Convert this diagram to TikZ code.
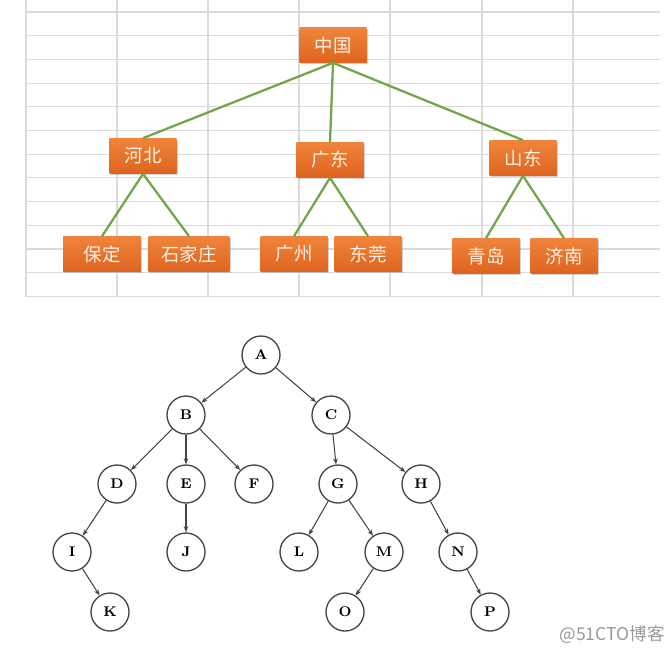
\documentclass[tikz,border=0pt]{standalone}
\usepackage{fontspec}
\newfontfamily\cjk{Noto Sans CJK SC}
\usetikzlibrary{arrows.meta,shadows}
\definecolor{cellline}{HTML}{DADADA}
\definecolor{boxtop}{HTML}{F0843A}
\definecolor{boxbot}{HTML}{DE641F}
\definecolor{linkgreen}{HTML}{72A64B}
\definecolor{treeline}{HTML}{444444}

\begin{document}
\begin{tikzpicture}[x={(0.02cm,0cm)},y={(0cm,-0.02cm)},
  prov/.style={top color=boxtop, bottom color=boxbot, minimum width=1.34cm, minimum height=0.7cm, inner sep=0pt,
    text=white!90!orange, font=\cjk\fontsize{10.5}{11}\selectfont,
    drop shadow={opacity=0.35, shadow xshift=0.6pt, shadow yshift=-0.9pt}},
  link/.style={linkgreen, line width=1.3pt},
  vert/.style={circle, draw=treeline, line width=0.75pt, minimum size=0.76cm, inner sep=0pt, font=\bfseries\fontsize{8}{9}\selectfont},
  ptr/.style={treeline, line width=0.6pt, -{Stealth[length=3.5pt,width=2.6pt]}}]

\useasboundingbox (0,0) rectangle (671,654);

\foreach \gy in {0,...,12} \draw[cellline, line width=0.6pt] (26,{12+23.7*\gy}) -- (660,{12+23.7*\gy});
\foreach \gx in {26,117,208,299,390,482,573} \draw[cellline, line width=0.6pt] (\gx,0) -- (\gx,297);

\node[prov] (zg) at (333,45) {中国};
\node[prov] (hb) at (143,156) {河北};
\node[prov] (gd) at (330,160) {广东};
\node[prov] (sd) at (523,158) {山东};
\node[prov, minimum width=1.56cm] (bd) at (102,254) {保定};
\node[prov, minimum width=1.62cm] (sjz) at (189,254) {石家庄};
\node[prov] (gz) at (294,254) {广州};
\node[prov] (dg) at (368,254) {东莞};
\node[prov] (qd) at (486,256) {青岛};
\node[prov] (jn) at (564,256) {济南};

\draw[link] (zg.south) -- (hb.north);
\draw[link] (zg.south) -- (gd.north);
\draw[link] (zg.south) -- (sd.north);
\draw[link] (hb.south) -- (bd.north);
\draw[link] (hb.south) -- (sjz.north);
\draw[link] (gd.south) -- (gz.north);
\draw[link] (gd.south) -- (dg.north);
\draw[link] (sd.south) -- (qd.north);
\draw[link] (sd.south) -- (jn.north);

\node[vert] (a) at (261,355) {A};
\node[vert] (b) at (186,415) {B};
\node[vert] (c) at (331,415) {C};
\node[vert] (d) at (117,484) {D};
\node[vert] (e) at (186,484) {E};
\node[vert] (f) at (254,484) {F};
\node[vert] (g) at (338,484) {G};
\node[vert] (h) at (421,484) {H};
\node[vert] (i) at (72,552) {I};
\node[vert] (j) at (186,552) {J};
\node[vert] (l) at (299,552) {L};
\node[vert] (m) at (384,552) {M};
\node[vert] (n) at (458,552) {N};
\node[vert] (k) at (110,612) {K};
\node[vert] (o) at (345,612) {O};
\node[vert] (p) at (490,612) {P};

\draw[ptr] (a) -- (b);
\draw[ptr] (a) -- (c);
\draw[ptr] (b) -- (d);
\draw[ptr] (b) -- (e);
\draw[ptr] (b) -- (f);
\draw[ptr] (c) -- (g);
\draw[ptr] (c) -- (h);
\draw[ptr] (d) -- (i);
\draw[ptr] (i) -- (k);
\draw[ptr] (e) -- (j);
\draw[ptr] (g) -- (l);
\draw[ptr] (g) -- (m);
\draw[ptr] (m) -- (o);
\draw[ptr] (h) -- (n);
\draw[ptr] (n) -- (p);

\node[text=gray!80, font=\cjk\fontsize{10}{12}\selectfont] (mark) at (612,635) {@51CTO博客};
\end{tikzpicture}
\end{document}
